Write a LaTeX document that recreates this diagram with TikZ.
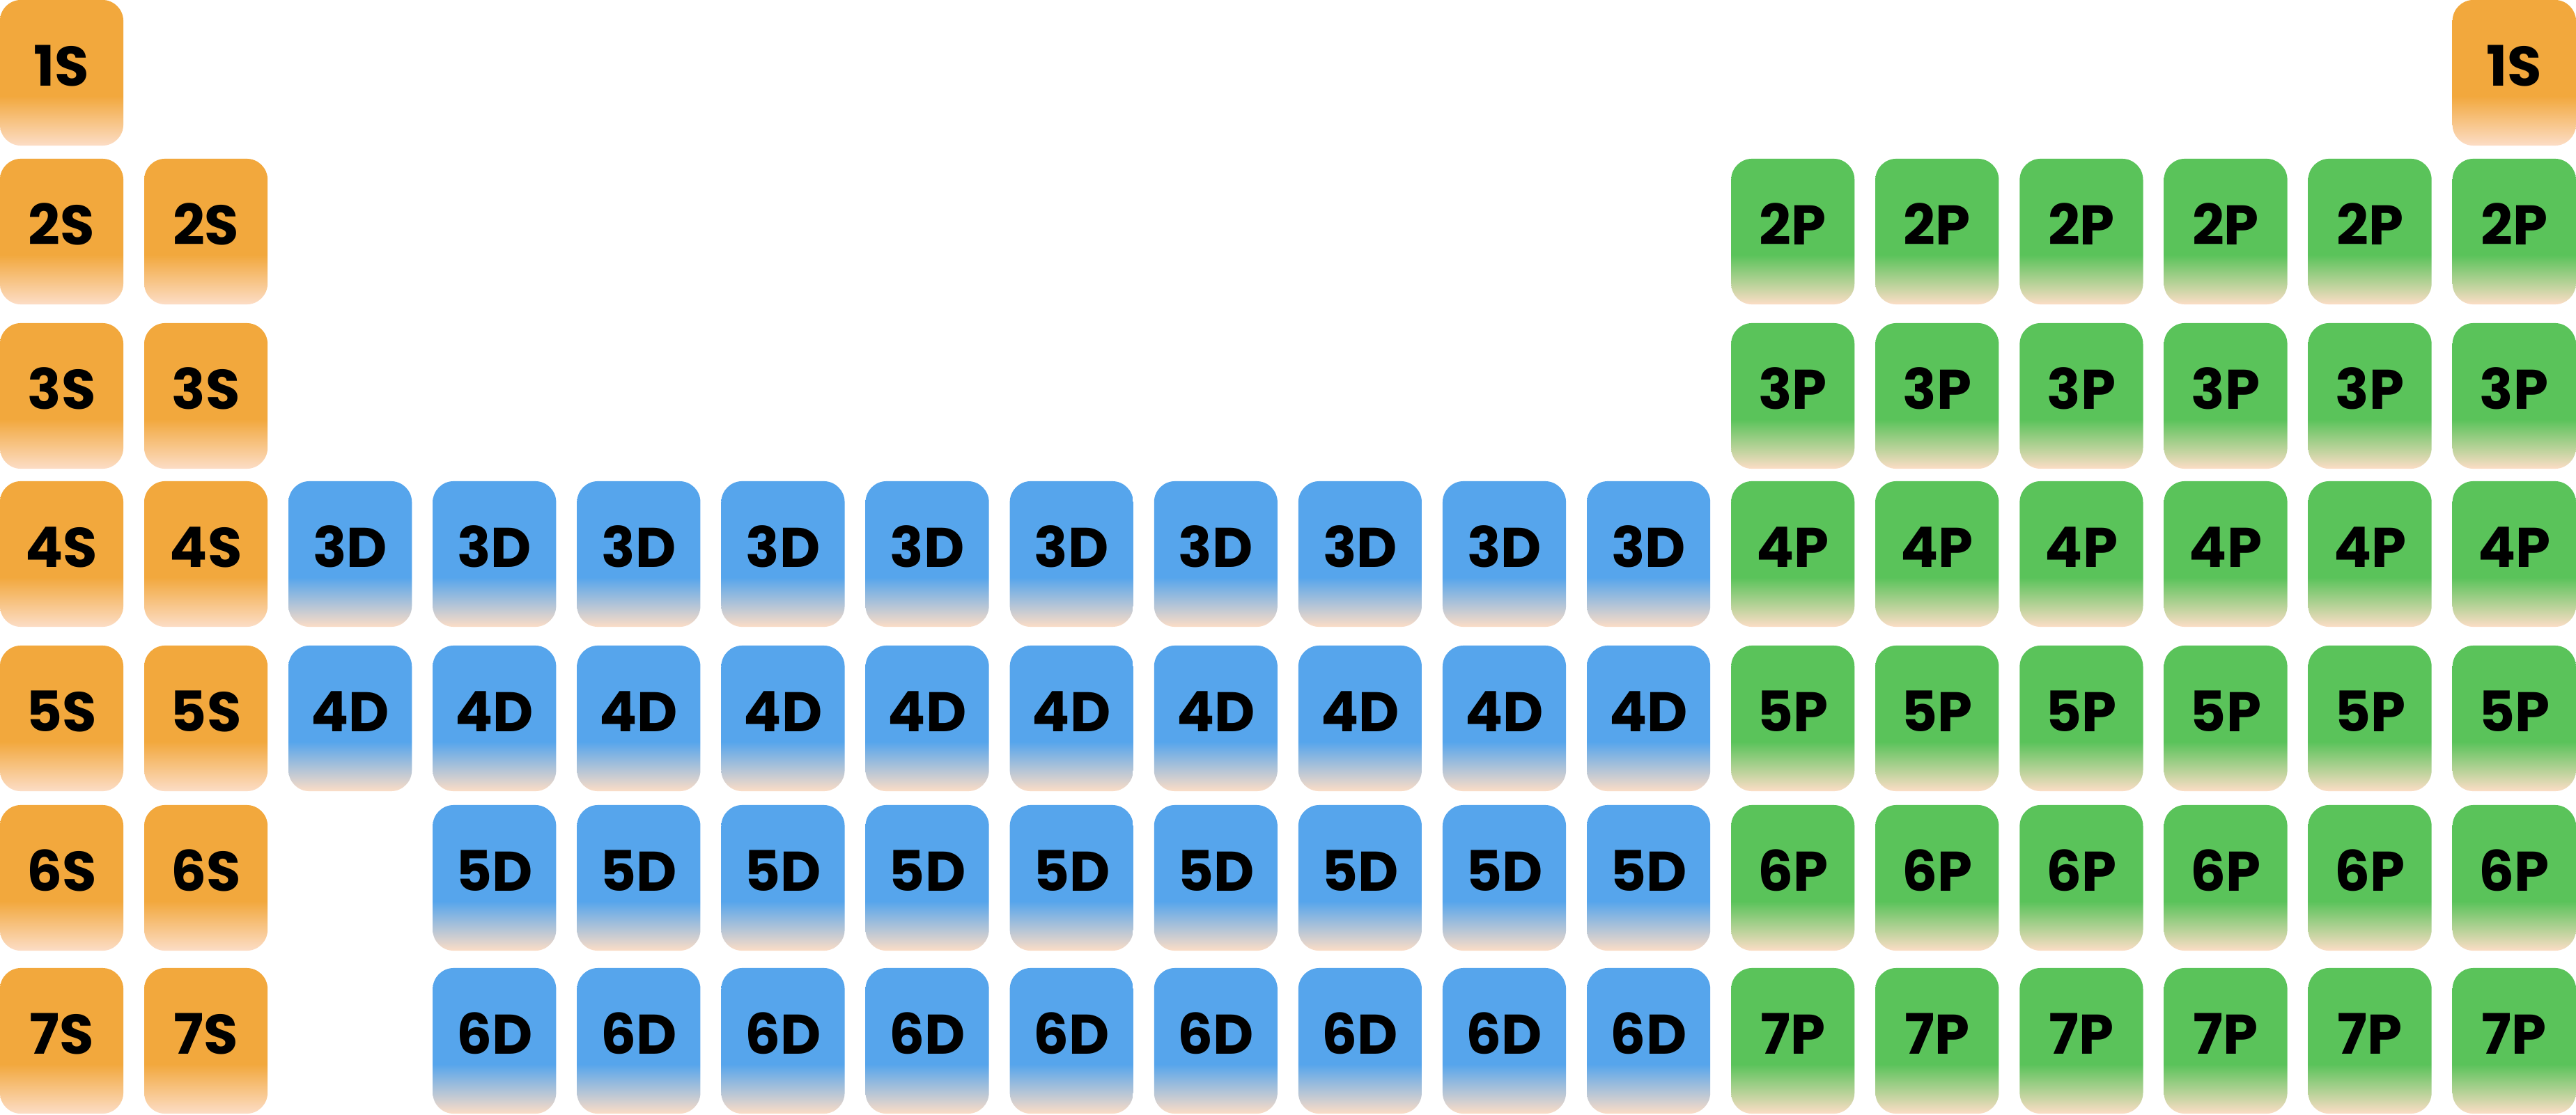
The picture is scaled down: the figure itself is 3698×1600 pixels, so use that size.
\documentclass[tikz,border=0pt]{standalone}
\usepackage{fontspec}
\setmainfont{Poppins}
\definecolor{orS}{HTML}{F2A83D}
\definecolor{blD}{HTML}{56A5EC}
\definecolor{grP}{HTML}{5AC35A}
\definecolor{peach}{HTML}{FCDDC6}
\pgfdeclareverticalshading{shS}{100bp}{color(0bp)=(peach); color(25bp)=(peach); color(42bp)=(orS); color(100bp)=(orS)}
\pgfdeclareverticalshading{shD}{100bp}{color(0bp)=(peach); color(25bp)=(peach); color(42bp)=(blD); color(100bp)=(blD)}
\pgfdeclareverticalshading{shP}{100bp}{color(0bp)=(peach); color(25bp)=(peach); color(42bp)=(grP); color(100bp)=(grP)}
\tikzset{
  tile/.style={rectangle, rounded corners=0.3cm, minimum width=1.77cm, minimum height=2.09cm,
    inner sep=0pt, text height=0.56cm, text depth=0.18cm, text=black,
    font=\fontsize{22.8pt}{24pt}\selectfont\bfseries},
  stile/.style={tile, shading=shS},
  dtile/.style={tile, shading=shD},
  ptile/.style={tile, shading=shP}
}
\newcommand\tileat[5]{%
  \pgfmathsetmacro\tx{207.1*#1+88.5}%
  \pgfmathsetmacro\ty{{0,228,464,691,927,1156,1390}[#2]+104.5}%
  \node[#3] (#5) at (\tx,\ty) {#4};}
\begin{document}
\begin{tikzpicture}[x=0.01cm,y=-0.01cm]
\path[fill=white] (0,0) rectangle (3698,1600);
\useasboundingbox (0,0) rectangle (3698,1600);
\tileat{0}{0}{stile}{1S}{s-1-0}
\tileat{17}{0}{stile}{1S}{s-1-17}
\foreach \r in {1,...,6}{
  \pgfmathtruncatemacro\n{\r+1}
  \foreach \c in {0,1}{\tileat{\c}{\r}{stile}{\n S}{s-\n-\c}}
  \foreach \c in {12,...,17}{\tileat{\c}{\r}{ptile}{\n P}{p-\n-\c}}
}
\foreach \c in {2,...,11}{\tileat{\c}{3}{dtile}{3D}{d-3-\c}}
\foreach \c in {2,...,11}{\tileat{\c}{4}{dtile}{4D}{d-4-\c}}
\foreach \c in {3,...,11}{\tileat{\c}{5}{dtile}{5D}{d-5-\c}}
\foreach \c in {3,...,11}{\tileat{\c}{6}{dtile}{6D}{d-6-\c}}
\end{tikzpicture}
\end{document}
